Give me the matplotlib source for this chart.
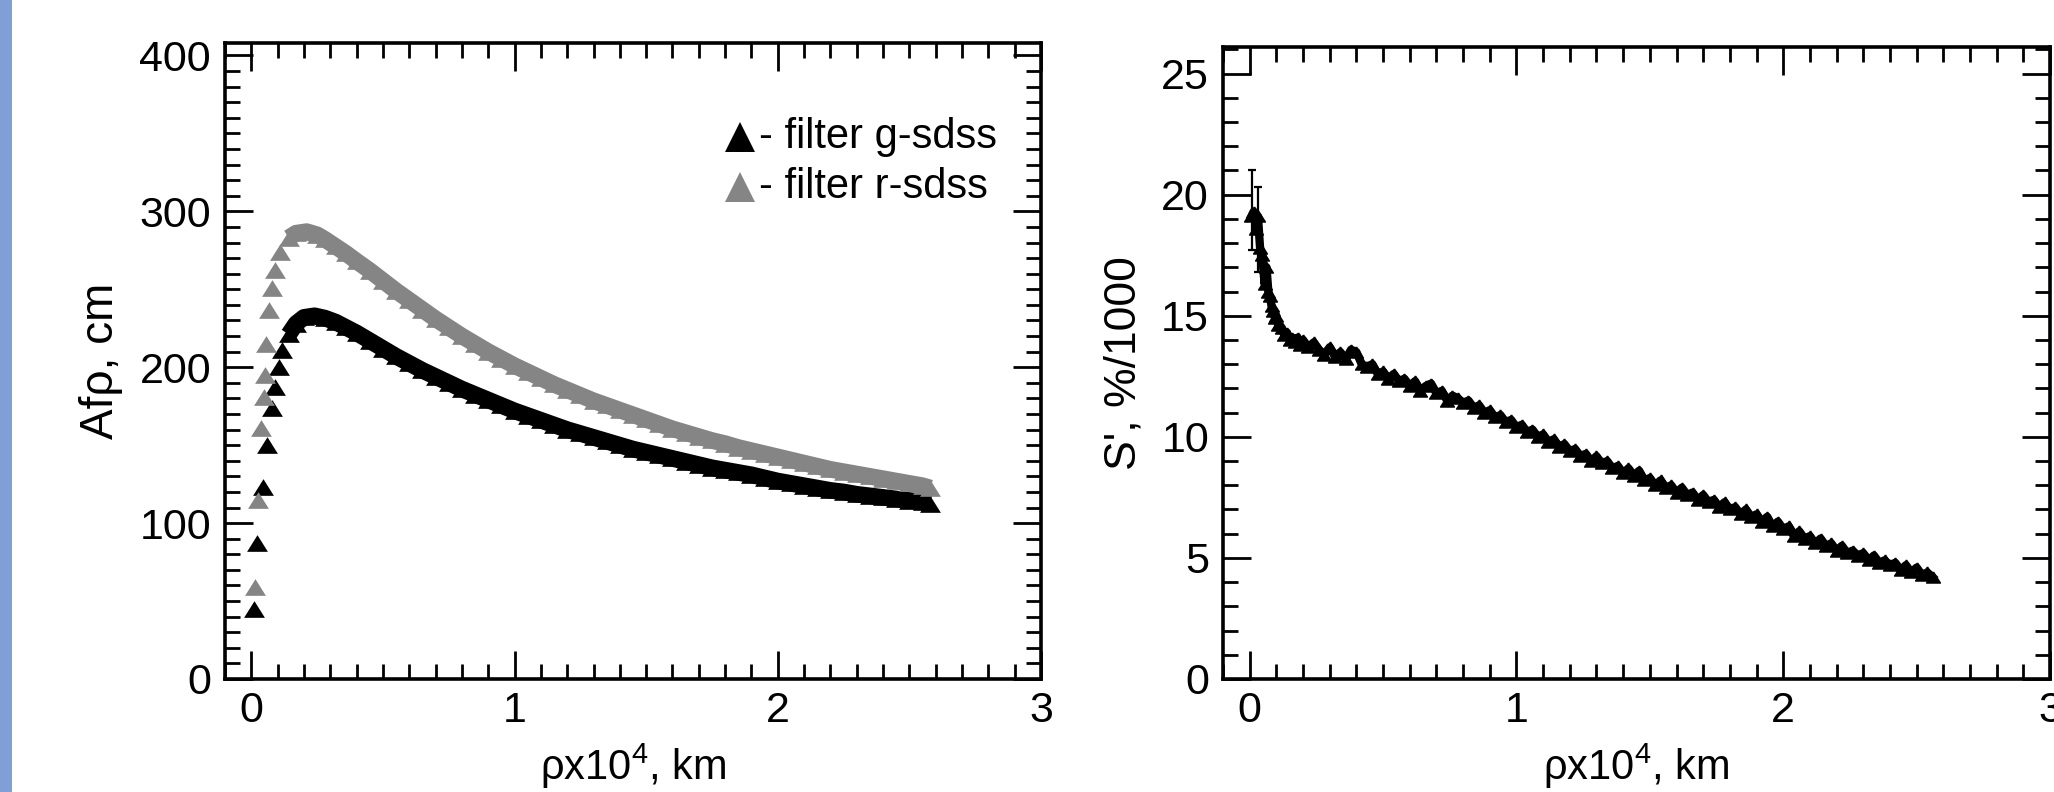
import matplotlib
matplotlib.use("Agg")
import matplotlib.pyplot as plt
from matplotlib.ticker import MultipleLocator
from matplotlib.patches import Rectangle

plt.rcParams["font.family"] = ["Liberation Sans", "DejaVu Sans"]
plt.rcParams["mathtext.fontset"] = "custom"
plt.rcParams["mathtext.rm"] = "Liberation Sans"
plt.rcParams["mathtext.it"] = "Liberation Sans"

# ---- Afρ profiles (cm) versus ρ (10^4 km) ----
rho_g = [0.009, 0.022, 0.043, 0.060, 0.079, 0.091, 0.104, 0.117, 0.142, 0.17,
         0.20, 0.24, 0.28, 0.32, 0.36, 0.40, 0.45, 0.50, 0.55, 0.60,
         0.65, 0.70, 0.75, 0.80, 0.85, 0.90, 0.95, 1.00, 1.05, 1.10,
         1.15, 1.20, 1.25, 1.30, 1.35, 1.40, 1.45, 1.50, 1.55, 1.60,
         1.65, 1.70, 1.75, 1.80, 1.85, 1.90, 1.95, 2.00, 2.05, 2.10,
         2.15, 2.20, 2.25, 2.30, 2.35, 2.40, 2.45, 2.50, 2.55, 2.58]
afrho_g = [45, 87, 123, 150, 174, 187, 200, 211, 221, 228,
           232, 233, 231.5, 229, 225.5, 222, 217, 212, 207, 202.5,
           198, 194, 190, 186, 182.5, 179, 175.5, 172, 169, 166,
           163, 160, 157.5, 155, 152.5, 150, 147.5, 145.5, 143.5, 141.5,
           139.5, 137.5, 135.5, 134, 132.5, 131, 129, 127, 125.5, 124,
           122.5, 121, 120, 118.5, 117.5, 116.5, 115.5, 114.5, 113.5, 112.5]

rho_r = [0.013, 0.025, 0.038, 0.047, 0.051, 0.056, 0.066, 0.079, 0.091, 0.110,
         0.142, 0.17, 0.21, 0.25, 0.28, 0.32, 0.36, 0.40, 0.45, 0.50,
         0.55, 0.60, 0.65, 0.70, 0.75, 0.80, 0.85, 0.90, 0.95, 1.00,
         1.05, 1.10, 1.15, 1.20, 1.25, 1.30, 1.35, 1.40, 1.45, 1.50,
         1.55, 1.60, 1.65, 1.70, 1.75, 1.80, 1.85, 1.90, 1.95, 2.00,
         2.05, 2.10, 2.15, 2.20, 2.25, 2.30, 2.35, 2.40, 2.45, 2.50,
         2.55, 2.58]
afrho_r = [59, 115, 161, 181, 195, 215, 237, 251, 262.5, 274,
           283, 286, 287, 285, 282, 277.5, 273, 268, 262, 255.5,
           249, 243, 237, 231, 225.5, 220, 215, 210, 205.5, 201,
           197, 193, 189, 185.5, 182, 178.5, 175.5, 172.5, 169.5, 166.5,
           163.5, 160.5, 158, 155.5, 153, 151, 148.5, 146.5, 144.5, 142.5,
           140.5, 138.5, 136.5, 134.5, 133, 131.5, 130, 128.5, 127, 125.5,
           124, 122.5]

# ---- S' (%/1000) versus ρ (10^4 km) ----
rho_s = [0.006, 0.015, 0.025, 0.031, 0.039, 0.047, 0.056, 0.063, 0.070, 0.076,
         0.082, 0.088, 0.095, 0.100, 0.107, 0.120, 0.130, 0.140, 0.150, 0.160,
         0.170, 0.180, 0.190,
         0.20, 0.22, 0.24, 0.26, 0.28, 0.30, 0.32, 0.34, 0.36, 0.38,
         0.40, 0.42, 0.44, 0.46, 0.48, 0.50, 0.52, 0.54, 0.56, 0.58,
         0.60, 0.62, 0.64, 0.66, 0.68, 0.70, 0.72, 0.74, 0.76, 0.78,
         0.80, 0.82, 0.84, 0.86, 0.88, 0.90, 0.92, 0.94, 0.96, 0.98,
         1.00, 1.02, 1.04, 1.06, 1.08, 1.10, 1.12, 1.14, 1.16, 1.18,
         1.20, 1.22, 1.24, 1.26, 1.28, 1.30, 1.32, 1.34, 1.36, 1.38,
         1.40, 1.42, 1.44, 1.46, 1.48, 1.50, 1.52, 1.54, 1.56, 1.58,
         1.60, 1.62, 1.64, 1.66, 1.68, 1.70, 1.72, 1.74, 1.76, 1.78,
         1.80, 1.82, 1.84, 1.86, 1.88, 1.90, 1.92, 1.94, 1.96, 1.98,
         2.00, 2.02, 2.04, 2.06, 2.08, 2.10, 2.12, 2.14, 2.16, 2.18,
         2.20, 2.22, 2.24, 2.26, 2.28, 2.30, 2.32, 2.34, 2.36, 2.38,
         2.40, 2.42, 2.44, 2.46, 2.48, 2.50, 2.52, 2.54, 2.56]
s_prime = [19.1, 19.3, 18.6, 19.1, 17.8, 17.5, 16.3, 17.0, 16.0, 15.8,
           15.4, 15.2, 14.9, 15.0, 14.6, 14.5, 14.2, 14.3, 14.0, 14.1,
           13.9, 14.1, 13.8,
           14.0, 13.7, 13.9, 13.6, 13.4, 13.7, 13.3, 13.5, 13.2, 13.6,
           13.5, 13.0, 12.9, 13.0, 12.6, 12.7, 12.4, 12.6, 12.3, 12.4,
           12.1, 12.3, 11.9, 12.1, 12.2, 11.8, 11.9, 11.5, 11.7, 11.6,
           11.4, 11.5, 11.2, 11.3, 11.0, 11.1, 10.8, 10.9, 10.6, 10.7,
           10.4, 10.5, 10.2, 10.3, 10.0, 10.1, 9.8, 9.9, 9.6, 9.7,
           9.4, 9.5, 9.2, 9.3, 9.0, 9.2, 8.9, 9.0, 8.7, 8.8,
           8.5, 8.7, 8.4, 8.6, 8.2, 8.3, 8.0, 8.2, 7.9, 8.0,
           7.7, 7.9, 7.6, 7.7, 7.4, 7.6, 7.3, 7.4, 7.1, 7.3,
           7.0, 7.1, 6.8, 7.0, 6.7, 6.8, 6.5, 6.7, 6.3, 6.5,
           6.2, 6.3, 5.9, 6.1, 5.8, 5.9, 5.6, 5.8, 5.5, 5.6,
           5.3, 5.5, 5.2, 5.3, 5.1, 5.2, 4.9, 5.1, 4.8, 4.9,
           4.7, 4.8, 4.5, 4.7, 4.4, 4.6, 4.3, 4.4, 4.2]

# error bars on the innermost apertures
rho_err = [0.010, 0.031]
s_err = [19.3, 18.6]
s_err_lo = [1.6, 1.8]
s_err_hi = [1.7, 1.7]

legend_labels = ["- filter g-sdss", "- filter r-sdss"]
c_g = "#000000"
c_r = "#858585"

# flattened triangle used for the data points
tri = [(0, 0.8), (-1, -0.8), (1, -0.8), (0, 0.8)]

fig = plt.figure(figsize=(20.54, 7.92), dpi=100)
fig.patch.set_facecolor("white")

# slide border strip on the left
fig.add_artist(Rectangle((0, 0), 12 / 2054, 1, transform=fig.transFigure,
                         facecolor="#7f9fd6", edgecolor="none"))

ax1 = fig.add_axes([0.10954, 0.14268, 0.39727, 0.80303])
ax2 = fig.add_axes([0.59542, 0.14268, 0.40263, 0.79798])


def style_axes(ax, ymajor, yminor):
    ax.set_xlim(-0.1, 3.0)
    ax.xaxis.set_major_locator(MultipleLocator(1))
    ax.xaxis.set_minor_locator(MultipleLocator(0.1))
    ax.yaxis.set_major_locator(MultipleLocator(ymajor))
    ax.yaxis.set_minor_locator(MultipleLocator(yminor))
    ax.tick_params(which="both", direction="in", top=True, right=True,
                   width=2.0, color="black", labelsize=31)
    ax.tick_params(which="major", length=20)
    ax.tick_params(which="minor", length=10.5)
    ax.tick_params(axis="x", which="major", pad=9)
    ax.tick_params(axis="y", which="major", pad=10)
    for sp in ax.spines.values():
        sp.set_linewidth(2.6)


xlabel = r"ρx10$^{\mathregular{4}}$, km"

# left panel: Afρ
ax1.plot(rho_g[8:], afrho_g[8:], color=c_g, lw=12, solid_capstyle="butt")
ax1.plot(rho_g, afrho_g, color=c_g, marker=tri, ms=15,
         markeredgewidth=0, linestyle="none")
ax1.plot(rho_r[10:], afrho_r[10:], color=c_r, lw=12, solid_capstyle="butt")
ax1.plot(rho_r, afrho_r, color=c_r, marker=tri, ms=15,
         markeredgewidth=0, linestyle="none")
ax1.set_ylim(0, 408)
style_axes(ax1, 100, 10)
ax1.set_xlabel(xlabel, fontsize=30, va="center")
ax1.set_ylabel("Afρ, cm", fontsize=33, va="center")
ax1.xaxis.set_label_coords(0.5, -0.137)
ax1.yaxis.set_label_coords(-0.152, 0.5)

# legend rows
for (yy, col, lab) in zip([0.852, 0.774], [c_g, c_r], legend_labels):
    ax1.plot([0.631], [yy], marker="^", ms=22, color=col, markeredgewidth=0,
             transform=ax1.transAxes, clip_on=False, linestyle="none")
    ax1.text(0.655, yy, lab, transform=ax1.transAxes, fontsize=30,
             va="center", ha="left")

# right panel: S'
ax2.errorbar(rho_err, s_err, yerr=[s_err_lo, s_err_hi], fmt="none",
             ecolor="black", elinewidth=1.6, capsize=3, capthick=1.6)
ax2.plot(rho_s, s_prime, color="black", lw=6, marker=tri, ms=10,
         markeredgewidth=1.0)
ax2.set_ylim(0, 26.1)
style_axes(ax2, 5, 1)
ax2.set_xlabel(xlabel, fontsize=30, va="center")
ax2.set_ylabel("S', %/1000", fontsize=32, va="center")
ax2.xaxis.set_label_coords(0.5, -0.138)
ax2.yaxis.set_label_coords(-0.12, 0.5)

fig.savefig("out.png", dpi=100, facecolor="white")
